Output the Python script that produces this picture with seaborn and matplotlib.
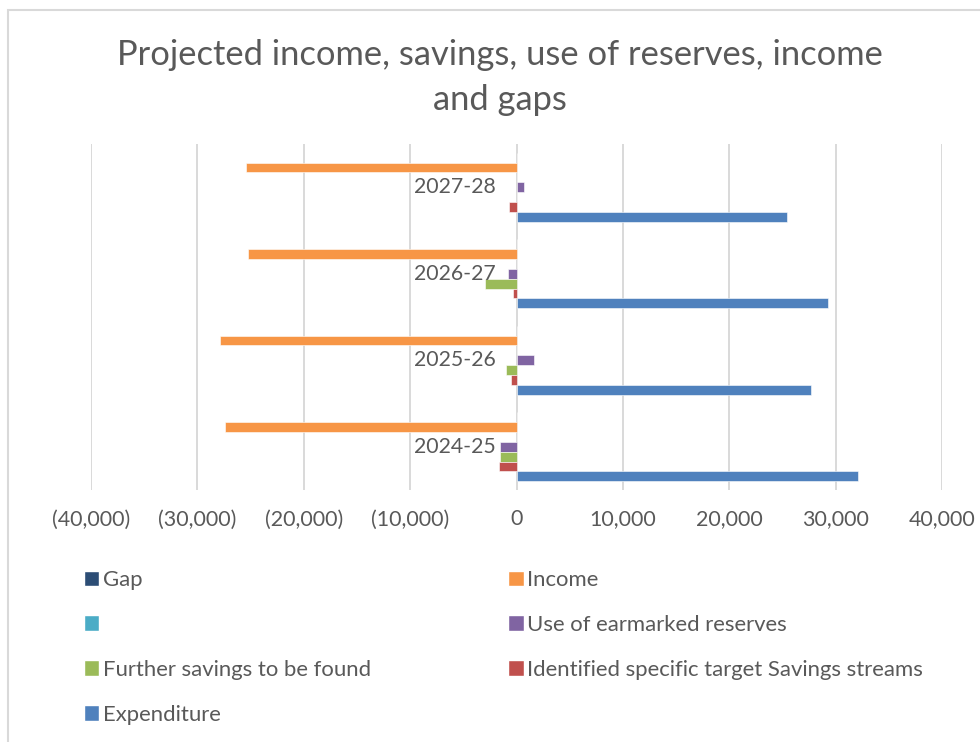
import pandas as pd
import seaborn as sns
import matplotlib.pyplot as plt
from matplotlib.patches import Patch, Rectangle
from matplotlib.ticker import FuncFormatter
from matplotlib import transforms

years = ["2027-28", "2026-27", "2025-26", "2024-25"]
series = ["Gap", "Income", "", "Use of earmarked reserves", "Further savings to be found",
          "Identified specific target Savings streams", "Expenditure"]
colors = ["#2C4D75", "#F79646", "#4BACC6", "#8064A2", "#9BBB59", "#C0504D", "#4F81BD"]

# values per series, in the same order as years (top group first)
gap = [0, 0, 0, 0]
income = [-25430, -25220, -27880, -27390]
blank = [0, 0, 0, 0]
earmarked = [700, -820, 1670, -1510]
further = [0, -2940, -980, -1510]
identified = [-730, -290, -530, -1670]
expenditure = [25430, 29270, 27710, 32080]

xticks = [-40000, -30000, -20000, -10000, 0, 10000, 20000, 30000, 40000]

rows = []
for name, vals in zip(series, [gap, income, blank, earmarked, further, identified, expenditure]):
    for yr, v in zip(years, vals):
        rows.append({"year": yr, "series": name if name else "blank", "value": v})
df = pd.DataFrame(rows)
hue_keys = [s if s else "blank" for s in series]

sns.set_style("white")
plt.rcParams['font.family'] = ['Lato', 'DejaVu Sans']
grey = "#595959"

fig = plt.figure(figsize=(9.8, 7.42), dpi=100)
ax = fig.add_axes([91 / 980, 1 - 490 / 742, (942 - 91) / 980, (490 - 144) / 742])

sns.barplot(data=df, x="value", y="year", hue="series", order=years, hue_order=hue_keys,
            palette=dict(zip(hue_keys, colors)), saturation=1, orient="h", width=0.8,
            errorbar=None, legend=False, ax=ax, edgecolor="white", linewidth=0.4)

ax.set_xlim(-40000, 40000)
ax.set_ylim(3.5, -0.5)
ax.set_xticks(xticks)
ax.xaxis.set_major_formatter(FuncFormatter(lambda v, p: f"({abs(v):,.0f})" if v < 0 else f"{v:,.0f}"))
ax.tick_params(axis="x", length=0, pad=14, labelsize=15.4, labelcolor=grey)
ax.set_yticks([])
ax.set_xlabel("")
ax.set_ylabel("")
ax.grid(axis="x", color="#D9D9D9", linewidth=1.4)
ax.set_axisbelow(True)
for s in ax.spines.values():
    s.set_visible(False)

# category labels sit next to the zero line
off = transforms.offset_copy(ax.transData, fig=fig, x=-21, y=0, units="dots")
for i, yr in enumerate(years):
    ax.text(0, i, yr, ha="right", va="center", fontsize=15.3, color=grey, transform=off)

fig.text(500 / 980, 1 - 55 / 742, "Projected income, savings, use of reserves, income",
         ha="center", va="center", fontsize=24.8, color=grey)
fig.text(500 / 980, 1 - 100 / 742, "and gaps", ha="center", va="center", fontsize=24.8, color=grey)

# legend filled row by row like the original
handles = [Patch(facecolor=c) for c in colors]
order = [0, 2, 4, 6, 1, 3, 5]
fig.legend([handles[i] for i in order], [series[i] for i in order], ncol=2,
           loc="upper left", bbox_to_anchor=(84 / 980, 1 - 570 / 742), frameon=False,
           borderpad=0, borderaxespad=0, fontsize=15.9, labelcolor=grey,
           handlelength=0.7, handleheight=0.7, handletextpad=0.15,
           labelspacing=1.13, columnspacing=6.22)

fig.patches.append(Rectangle((8 / 980, -0.1), 1.2, 1.1 - 10 / 742, transform=fig.transFigure,
                             fill=False, edgecolor="#D9D9D9", linewidth=1.5))

fig.savefig("out.png", dpi=100)
